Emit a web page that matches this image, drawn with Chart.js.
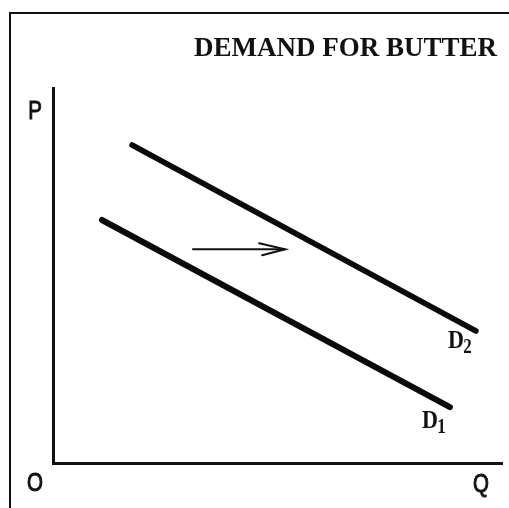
<!DOCTYPE html>
<html>
<head>
<meta charset="utf-8">
<title>Demand for Butter</title>
<script src="https://cdn.jsdelivr.net/npm/chart.js@4.4.1/dist/chart.umd.min.js"></script>
<style>
  html, body { margin: 0; padding: 0; background: #fff; }
  #wrap { position: relative; width: 509px; height: 508px; }
  #frame {
    position: absolute; left: 9px; top: 12px; right: 0; bottom: 0;
    border-left: 2px solid #111; border-top: 2px solid #111;
    pointer-events: none;
  }
</style>
</head>
<body>
<div id="wrap">
  <canvas id="demandChart" width="509" height="508"></canvas>
  <div id="frame"></div>
</div>
<script>
// Curvas de demanda (cantidad Q, precio P)
const d1Q = [1.09, 8.84];
const d1P = [6.48, 1.49];
const d2Q = [1.76, 9.42];
const d2P = [8.48, 3.52];
// flecha del desplazamiento D1 -> D2
const shiftQ = [3.10, 5.17];
const shiftP = [5.70, 5.70];
// etiquetas de las curvas: texto, subindice, posicion (Q, P)
const curveNames = ['D', 'D'];
const curveSubs = ['1', '2'];
const curveLabelQ = [8.22, 8.80];
const curveLabelP = [0.93, 3.07];
const chartTitle = 'DEMAND FOR BUTTER';
const axisNames = ['P', 'O', 'Q'];

const toPoints = (qs, ps) => qs.map((q, i) => ({ x: q, y: ps[i] }));

// Textos a mano: titulo, P/O/Q, D1/D2 y punta de flecha
const sketchText = {
  id: 'sketchText',
  afterDatasetsDraw(chart) {
    const { ctx, chartArea, scales: { x, y } } = chart;
    ctx.save();
    ctx.fillStyle = '#111';
    ctx.strokeStyle = '#111';

    // titulo
    ctx.font = 'bold 27px "Liberation Serif", "Times New Roman", serif';
    ctx.textAlign = 'right';
    ctx.textBaseline = 'alphabetic';
    ctx.fillText(chartTitle, chartArea.right - 5, 56);

    // P, O, Q (un poco estrechas y gruesas)
    ctx.font = '25px "Liberation Sans", Arial, sans-serif';
    ctx.textAlign = 'center';
    ctx.textBaseline = 'middle';
    ctx.lineWidth = 1;
    const spots = [
      [chartArea.left - 18, chartArea.top + 24],
      [chartArea.left - 18, chartArea.bottom + 21],
      [chartArea.right - 21, chartArea.bottom + 22]
    ];
    axisNames.forEach((t, i) => {
      ctx.save();
      ctx.translate(spots[i][0], spots[i][1]);
      ctx.scale(0.82, 1);
      ctx.fillText(t, 0, 0);
      ctx.strokeText(t, 0, 0);
      ctx.restore();
    });

    // D1, D2
    ctx.textAlign = 'left';
    ctx.textBaseline = 'alphabetic';
    curveNames.forEach((t, i) => {
      const px = x.getPixelForValue(curveLabelQ[i]);
      const py = y.getPixelForValue(curveLabelP[i]);
      ctx.font = 'bold 26px "Liberation Serif", "Times New Roman", serif';
      ctx.save();
      ctx.translate(px, py);
      ctx.scale(0.85, 1);
      ctx.fillText(t, 0, 0);
      const w = ctx.measureText(t).width;
      ctx.font = 'bold 20px "Liberation Serif", "Times New Roman", serif';
      ctx.fillText(curveSubs[i], w - 1, 5);
      ctx.restore();
    });

    // punta de la flecha
    const arrow = chart.getDatasetMeta(2).data;
    const tip = arrow[arrow.length - 1];
    ctx.lineWidth = 2;
    ctx.lineCap = 'round';
    ctx.beginPath();
    ctx.moveTo(tip.x - 26, tip.y - 6);
    ctx.lineTo(tip.x, tip.y);
    ctx.lineTo(tip.x - 23, tip.y + 6);
    ctx.stroke();
    ctx.restore();
  }
};

const ctx = document.getElementById('demandChart').getContext('2d');
const demandChart = new Chart(ctx, {
  type: 'scatter',
  data: {
    datasets: [
      {
        label: 'D1',
        data: toPoints(d1Q, d1P),
        showLine: true,
        borderColor: '#0a0a0a',
        borderWidth: 6,
        borderCapStyle: 'round',
        pointRadius: 0
      },
      {
        label: 'D2',
        data: toPoints(d2Q, d2P),
        showLine: true,
        borderColor: '#0a0a0a',
        borderWidth: 5.5,
        borderCapStyle: 'round',
        pointRadius: 0
      },
      {
        label: 'shift',
        data: toPoints(shiftQ, shiftP),
        showLine: true,
        borderColor: '#111',
        borderWidth: 2,
        pointRadius: 0
      }
    ]
  },
  options: {
    responsive: false,
    animation: false,
    layout: {
      padding: { left: 53, right: 7, top: 88, bottom: 45 }
    },
    plugins: {
      legend: { display: false },
      title: { display: false },
      tooltip: { enabled: false }
    },
    scales: {
      x: {
        type: 'linear',
        min: 0,
        max: 10,
        grid: { display: false, drawTicks: false, tickLength: 0 },
        ticks: { display: false },
        border: { display: true, width: 3, color: '#111' }
      },
      y: {
        type: 'linear',
        min: 0,
        max: 10,
        grid: { display: false, drawTicks: false, tickLength: 0 },
        ticks: { display: false },
        border: { display: true, width: 3, color: '#111' }
      }
    }
  },
  plugins: [sketchText]
});
</script>
</body>
</html>
